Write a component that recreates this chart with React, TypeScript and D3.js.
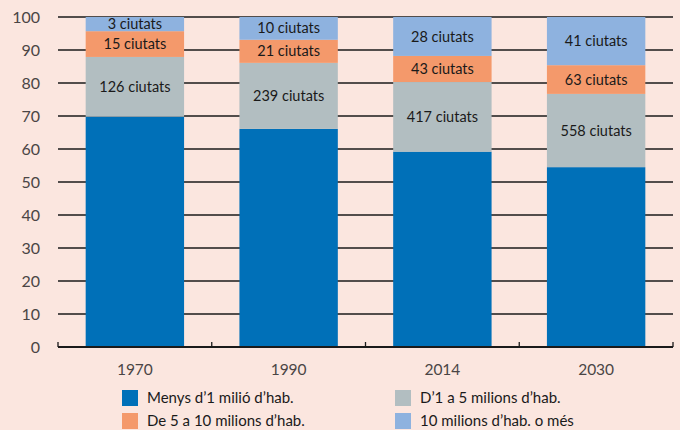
import React, { useEffect, useRef } from 'react'
import * as d3 from 'd3'

const years = ['1970', '1990', '2014', '2030']
const seriesNames = [
  'Menys d\u20191 milió d\u2019hab.',
  'D\u20191 a 5 milions d\u2019hab.',
  'De 5 a 10 milions d\u2019hab.',
  '10 milions d\u2019hab. o més',
]
const lessThan1M = [69.8, 66.1, 59.2, 54.5]
const from1to5M = [18.1, 20.0, 21.1, 22.2]
const from5to10M = [7.8, 7.0, 7.9, 8.7]
const over10M = [4.3, 6.9, 11.8, 14.6]
const from1to5Labels = ['126 ciutats', '239 ciutats', '417 ciutats', '558 ciutats']
const from5to10Labels = ['15 ciutats', '21 ciutats', '43 ciutats', '63 ciutats']
const over10Labels = ['3 ciutats', '10 ciutats', '28 ciutats', '41 ciutats']
const yTicks = [0, 10, 20, 30, 40, 50, 60, 70, 80, 90, 100]

const colors = ['#0070b8', '#b2bec1', '#f4996b', '#8eb2df']
const W = 680
const H = 430

export default function App() {
  const ref = useRef<SVGSVGElement>(null)

  useEffect(() => {
    const svg = d3.select(ref.current)
    svg.selectAll('*').remove()

    const left = 58
    const right = 673
    const top = 17
    const bottom = 347

    const x = d3.scaleBand().domain(years).range([left, right]).paddingInner(0.36).paddingOuter(0.18)
    const y = d3.scaleLinear().domain([0, 100]).range([bottom, top])

    svg.append('rect').attr('width', W).attr('height', H).attr('fill', '#fbe6df')

    // gridlines
    svg
      .selectAll('line.grid')
      .data(yTicks.filter((d) => d > 0))
      .enter()
      .append('line')
      .attr('x1', left)
      .attr('x2', right)
      .attr('y1', (d) => y(d))
      .attr('y2', (d) => y(d))
      .attr('stroke', '#1a1a1a')
      .attr('stroke-width', 1.3)

    svg
      .selectAll('text.ytick')
      .data(yTicks)
      .enter()
      .append('text')
      .attr('x', 40)
      .attr('y', (d) => y(d))
      .attr('dy', '0.35em')
      .attr('text-anchor', 'end')
      .attr('font-family', 'Lato, sans-serif')
      .attr('font-size', 16)
      .attr('fill', '#4a4545')
      .text((d) => d)

    const rows = years.map((yr, i) => ({
      year: yr,
      a: lessThan1M[i],
      b: from1to5M[i],
      c: from5to10M[i],
      d: over10M[i],
    }))
    const stack = d3.stack<any>().keys(['a', 'b', 'c', 'd'])(rows)
    const labels = [null, from1to5Labels, from5to10Labels, over10Labels]

    stack.forEach((layer, k) => {
      svg
        .append('g')
        .selectAll('rect')
        .data(layer)
        .enter()
        .append('rect')
        .attr('x', (d) => x(d.data.year)!)
        .attr('width', x.bandwidth())
        .attr('y', (d) => y(Math.min(d[1], 100)))
        .attr('height', (d) => y(d[0]) - y(Math.min(d[1], 100)))
        .attr('fill', colors[k])

      const lab = labels[k]
      if (lab) {
        svg
          .append('g')
          .selectAll('text')
          .data(layer)
          .enter()
          .append('text')
          .attr('x', (d) => x(d.data.year)! + x.bandwidth() / 2)
          .attr('y', (d) => y((d[0] + Math.min(d[1], 100)) / 2))
          .attr('dy', '0.35em')
          .attr('text-anchor', 'middle')
          .attr('font-family', 'Lato, sans-serif')
          .attr('font-size', 14.5)
          .attr('fill', '#1a1a1a')
          .text((d, i) => lab[i])
      }
    })

    // axis
    svg
      .append('line')
      .attr('x1', left)
      .attr('x2', right)
      .attr('y1', bottom)
      .attr('y2', bottom)
      .attr('stroke', '#1a1a1a')
      .attr('stroke-width', 2)

    const step = x.step()
    const bounds = d3.range(years.length + 1).map((i) => left + i * step - (i === years.length ? 0 : 0))
    svg
      .selectAll('line.tick')
      .data(bounds)
      .enter()
      .append('line')
      .attr('x1', (d, i) => (i === years.length ? right : left + (i * (right - left)) / years.length))
      .attr('x2', (d, i) => (i === years.length ? right : left + (i * (right - left)) / years.length))
      .attr('y1', bottom)
      .attr('y2', bottom - 5)
      .attr('stroke', '#1a1a1a')
      .attr('stroke-width', 1.3)

    svg
      .selectAll('text.xtick')
      .data(years)
      .enter()
      .append('text')
      .attr('x', (d) => x(d)! + x.bandwidth() / 2)
      .attr('y', 370)
      .attr('dy', '0.35em')
      .attr('text-anchor', 'middle')
      .attr('font-family', 'Lato, sans-serif')
      .attr('font-size', 15.5)
      .attr('fill', '#4a4545')
      .text((d) => d)

    // legend
    const legendPos = [
      [122, 390],
      [395, 390],
      [122, 413],
      [395, 413],
    ]
    const legendOrder = [0, 1, 2, 3]
    legendOrder.forEach((k, i) => {
      const [lx, ly] = legendPos[i]
      svg.append('rect').attr('x', lx).attr('y', ly).attr('width', 16).attr('height', 16).attr('fill', colors[k])
      svg
        .append('text')
        .attr('x', lx + 25)
        .attr('y', ly + 8)
        .attr('dy', '0.35em')
        .attr('font-family', 'Lato, sans-serif')
        .attr('font-size', 15)
        .attr('fill', '#1a1a1a')
        .text(seriesNames[k])
    })
  }, [])

  return (
    <svg
      ref={ref}
      width={W}
      height={H}
      style={{ position: 'absolute', left: 0, top: 0, display: 'block' }}
    />
  )
}
